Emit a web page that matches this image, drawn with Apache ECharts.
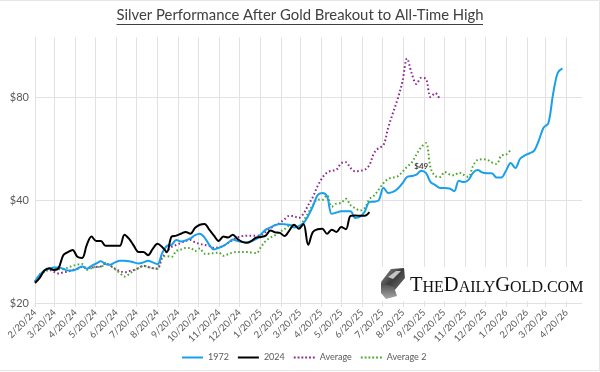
<!DOCTYPE html>
<html>
<head>
<meta charset="utf-8">
<style>
  html, body { margin: 0; padding: 0; background: #fff; }
  #chart { width: 600px; height: 372px; }
</style>
<script src="https://cdn.jsdelivr.net/npm/echarts@6/dist/echarts.min.js"></script>
</head>
<body>
<div id="chart"></div>
<script>
// weekly closes in dollars, each series starts on 2/20/24
const silver1972 = [23.1,24.2,24.9,25.2,25.4,25.4,25.2,24.9,24.9,25.2,25.6,25.2,25.7,26.1,26.5,26.0,25.9,26.3,26.6,26.6,
  26.5,26.3,26.1,26.3,26.6,26.3,26.0,28.0,29.4,29.6,30.6,30.3,30.5,30.9,31.6,31.9,31.1,29.6,28.7,29.0,
  29.4,30.0,30.7,30.4,30.2,30.1,30.4,30.8,31.8,32.8,33.3,33.8,34.1,34.0,33.9,33.3,33.6,34.3,36.0,38.4,
  41.4,42.0,41.1,36.5,36.8,37.1,37.1,37.1,35.5,35.8,37.0,39.5,39.6,40.0,43.5,42.0,42.3,43.2,44.8,46.8,
  47.1,47.5,48.8,48.1,45.2,44.3,43.4,43.4,43.3,42.5,45.6,45.2,45.8,48.1,49.0,48.2,48.0,48.0,46.6,46.6,
  48.8,51.4,49.7,52.9,54.1,54.9,55.9,60.0,65.3,67.2,81.8,94.5,97.3];
const silver2024 = [22.9,23.7,24.9,25.3,25.0,25.3,27.6,28.2,28.6,27.3,27.1,29.6,31.3,30.4,30.4,29.4,29.4,29.4,29.4,31.7,
  30.8,29.4,28.2,28.2,27.6,28.8,29.8,29.2,28.2,31.3,31.5,31.9,32.3,31.9,33.2,33.9,34.1,32.8,31.5,30.4,
  31.3,31.1,31.7,30.8,30.2,30.0,30.4,31.1,31.2,31.5,32.6,32.2,32.1,31.4,32.6,33.9,33.0,34.1,29.6,32.3,
  32.9,33.0,31.9,32.8,32.3,33.4,32.9,36.0,36.1,36.0,36.0,36.9];
const average1 = [23.1,24.2,24.8,25.0,24.7,24.4,24.6,24.7,25.0,25.2,25.5,25.3,25.4,25.5,25.6,26.1,25.7,25.2,24.8,24.6,
  24.8,25.0,25.3,25.7,25.5,25.3,25.2,27.1,28.3,29.2,29.6,30.0,30.4,30.6,30.1,29.8,29.6,29.4,29.0,29.1,
  29.4,30.0,30.6,31.1,31.4,31.5,31.5,31.5,31.6,32.3,33.1,33.8,34.3,35.2,36.0,35.9,35.5,36.5,38.7,40.9,
  44.0,46.5,48.2,48.8,49.1,51.3,51.7,49.7,48.6,48.8,49.1,50.7,55.0,56.9,58.0,65.3,72.0,79.2,88.8,104.0,
  93.9,87.6,91.3,90.7,80.2,82.4,78.5];
const average2 = [23.1,23.9,24.7,25.0,25.1,25.1,25.1,25.4,25.7,25.9,26.0,25.0,25.3,25.5,25.5,26.2,25.7,25.1,24.5,23.9,
  24.3,24.9,25.3,25.7,25.5,25.3,25.2,27.4,27.4,27.3,28.4,28.7,29.0,29.0,28.4,28.9,27.9,27.9,28.0,28.1,
  27.5,27.8,28.1,28.2,28.2,28.2,28.1,28.0,29.2,30.4,31.1,31.6,32.3,32.9,33.7,33.8,33.1,34.8,36.7,38.7,
  40.2,40.1,41.4,38.3,39.1,39.3,40.4,38.7,37.9,37.3,37.9,40.3,41.3,43.0,44.9,46.2,46.6,47.0,48.4,50.1,
  51.6,54.5,57.2,58.8,49.7,47.1,46.8,48.4,47.6,47.3,48.2,47.5,46.8,50.4,52.5,52.7,52.5,51.6,51.1,54.0,
  54.4,56.2];

const tickDates = ['2/20/24','3/20/24','4/20/24','5/20/24','6/20/24','7/20/24','8/20/24','9/20/24','10/20/24',
  '11/20/24','12/20/24','1/20/25','2/20/25','3/20/25','4/20/25','5/20/25','6/20/25','7/20/25','8/20/25',
  '9/20/25','10/20/25','11/20/25','12/20/25','1/20/26','2/20/26','3/20/26','4/20/26'];
const yTicks = [20, 40, 80];
const peakIndex = 82; // the $49 label on the 1972 line

const DAY = 86400000;
const parseDate = (s) => {
  const p = s.split('/');
  return Date.UTC(2000 + +p[2], +p[0] - 1, +p[1]);
};
const startTime = parseDate(tickDates[0]);
const dayOf = (s) => Math.round((parseDate(s) - startTime) / DAY);
const tickDays = tickDates.map(dayOf);
const yPos = (v) => Math.log2(v / 20); // excel log axis, base 2 from $20

const toSeries = (arr) => arr.map((v, i) => [i * 7, yPos(v)]);

const gridColor = '#e2e2e2';
const textColor = '#595959';
const font = 'Lato';
const dottedIcon = 'path://M0 0h2v2h-2z M4 0h2v2h-2z M8 0h2v2h-2z M12 0h2v2h-2z M16 0h2v2h-2z M20 0h2v2h-2z';

const lineSeries = (name, arr, color, dotted) => ({
  name: name,
  type: 'line',
  data: toSeries(arr),
  smooth: 0.35,
  symbol: 'none',
  lineStyle: { color: color, width: 2, type: dotted ? [1.6, 2.4] : 'solid', cap: 'butt' },
  itemStyle: { color: color },
  z: dotted ? 2 : 3
});

const blue = lineSeries('1972', silver1972, '#1a9fea', false);
blue.data[peakIndex] = {
  value: blue.data[peakIndex],
  symbol: 'circle',
  symbolSize: 1,
  label: { show: true, position: 'top', distance: 0, formatter: '$49', fontSize: 8, fontWeight: 'bold', color: '#404040', fontFamily: font }
};

const chart = echarts.init(document.getElementById('chart'), null, { renderer: 'canvas' });
chart.setOption({
  animation: false,
  backgroundColor: '#fff',
  grid: { left: 35, right: 18, top: 37.3, bottom: 69 },
  xAxis: {
    type: 'value',
    min: 0,
    max: dayOf('5/13/26'),
    axisLine: { lineStyle: { color: gridColor } },
    axisTick: { show: true, length: 4, lineStyle: { color: gridColor }, customValues: tickDays },
    splitLine: { show: true, lineStyle: { color: gridColor, width: 1 } },
    axisLabel: {
      rotate: 45, fontFamily: font, fontSize: 9.5, color: textColor, margin: 8,
      customValues: tickDays,
      formatter: (v) => tickDates[tickDays.indexOf(v)] || ''
    }
  },
  yAxis: {
    type: 'value',
    min: 0,
    max: yPos(120),
    axisLine: { show: true, lineStyle: { color: gridColor } },
    axisTick: { show: false, customValues: yTicks.map(yPos) },
    splitLine: { show: true, lineStyle: { color: gridColor, width: 1 } },
    axisLabel: {
      fontFamily: font, fontSize: 11, color: textColor, margin: 6,
      customValues: yTicks.map(yPos),
      formatter: (v) => '$' + Math.round(20 * Math.pow(2, v))
    }
  },
  legend: {
    top: 348, left: 177,
    itemWidth: 21, itemHeight: 2, itemGap: 9,
    textStyle: { fontFamily: font, fontSize: 9, color: textColor },
    data: [
      { name: '1972', icon: 'rect' },
      { name: '2024', icon: 'rect' },
      { name: 'Average', icon: dottedIcon },
      { name: 'Average 2', icon: dottedIcon }
    ]
  },
  series: [
    blue,
    lineSeries('2024', silver2024, '#000000', false),
    lineSeries('Average', average1, '#8f2a8f', true),
    lineSeries('Average 2', average2, '#4ea72e', true)
  ],
  graphic: [
    // faint frame of the original screenshot
    { type: 'polyline', z: 1, shape: { points: [[0, 0.5], [599.5, 0.5], [599.5, 370.5], [0, 370.5]] }, style: { stroke: '#e6e6e6', fill: null, lineWidth: 1 } },
    // title is a graphic so it can be stretched to the width of the original font
    { type: 'text', z: 10, x: 116.5, y: 8, scaleX: 0.99,
      style: { text: 'Silver Performance After Gold Breakout to All-Time High', fontFamily: font, fontSize: 15, fill: '#404040' } },
    { type: 'line', z: 10, shape: { x1: 116.5, y1: 24.5, x2: 483, y2: 24.5 }, style: { stroke: '#404040', lineWidth: 1 } },
    // white patch behind the logo hides the gridlines
    { type: 'rect', z: 5, shape: { x: 378, y: 267, width: 212, height: 34 }, style: { fill: '#fff' } },
    { type: 'polygon', z: 6, shape: { points: [[381, 282], [391, 269], [404, 268], [405, 278], [394, 291], [384, 289]] },
      style: { fill: new echarts.graphic.LinearGradient(0, 0, 1, 1, [{ offset: 0, color: '#9a9a9a' }, { offset: 0.5, color: '#3c3c3c' }, { offset: 1, color: '#777' }]) } },
    { type: 'polygon', z: 6, shape: { points: [[381, 283], [394, 287], [397, 296], [386, 299], [381, 293]] },
      style: { fill: new echarts.graphic.LinearGradient(0, 0, 0, 1, [{ offset: 0, color: '#4a4a4a' }, { offset: 1, color: '#a8a8a8' }]) } },
    { type: 'polygon', z: 7, shape: { points: [[388, 277], [396, 271], [401, 271], [393, 279]] }, style: { fill: '#c4c4c4' } },
    { type: 'text', z: 6, left: 410, top: 275,
      style: {
        text: '{b|T}{s|HE}{b|D}{s|AILY}{b|G}{s|OLD}{s|.COM}',
        rich: {
          b: { fontFamily: 'Liberation Serif', fontSize: 20.5, fill: '#111', verticalAlign: 'bottom', lineHeight: 22 },
          s: { fontFamily: 'Liberation Serif', fontSize: 16, fill: '#111', verticalAlign: 'bottom', lineHeight: 22 }
        }
      } }
  ]
});
</script>
</body>
</html>
